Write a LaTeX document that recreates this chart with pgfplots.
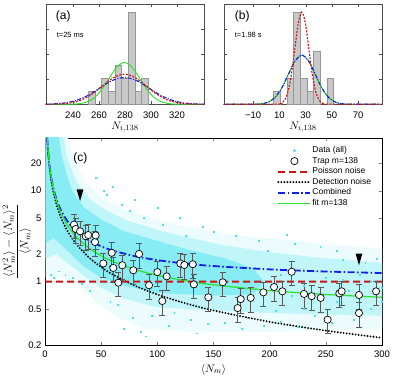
\documentclass[border=0pt]{standalone}
\usepackage{amsmath}
\usepackage{fontspec}
\setmainfont{Liberation Sans}
\usepackage{pgfplots}
\pgfplotsset{compat=1.18}

\definecolor{cloudA}{RGB}{236,252,253}
\definecolor{cloudB}{RGB}{192,245,249}
\definecolor{cloudC}{RGB}{135,236,244}
\definecolor{dotc}{RGB}{80,222,236}
\definecolor{poiss}{RGB}{200,20,20}
\definecolor{comb}{RGB}{20,30,235}
\definecolor{fitg}{RGB}{40,228,40}
\definecolor{histf}{RGB}{200,200,200}
\definecolor{histe}{RGB}{150,150,150}

% downward triangle marker
\pgfdeclareplotmark{dtri}{%
  \pgfpathmoveto{\pgfqpoint{-3.4pt}{5.8pt}}%
  \pgfpathlineto{\pgfqpoint{3.4pt}{5.8pt}}%
  \pgfpathlineto{\pgfqpoint{0pt}{-5.8pt}}%
  \pgfpathclose\pgfusepathqfill}

\tikzset{
  gfit/.style={fitg, line width=0.9pt, smooth},
  gpoi/.style={poiss, line width=1.1pt, dash pattern=on 2pt off 1.4pt, smooth},
  gcomb/.style={comb, line width=1.1pt, dash pattern=on 4pt off 1.5pt on 1pt off 1.5pt, smooth},
}

\pgfplotsset{
  /pgf/number format/assume math mode=true,
  every tick label/.append style={font=\fontsize{9.5}{11}\selectfont},
  histax/.style={
    scale only axis, width=158.6pt, height=100pt,
    ymin=0, ymax=4.01, ytick={1,2,3}, yticklabels={},
    axis line style={black!70}, tick style={black!70},
    major tick length=3pt,
    xticklabel style={yshift=-4pt},
    xlabel style={at={(axis description cs:0.5,-0.227)}, anchor=center,
      font=\fontsize{11}{12}\selectfont},
  },
  histbar/.style={ybar, bar width=5.1, bar shift=0pt, fill=histf, draw=histe, line width=0.5pt},
}

\begin{document}
\begin{tikzpicture}
\path[use as bounding box] (0,0) rectangle (395pt,-380pt);

% ---------- (a) ----------
\begin{axis}[histax, at={(45.7pt,-104.3pt)}, anchor=south west,
  xmin=219, xmax=341, xtick={240,260,...,320},
  xlabel={$N_{i,138}$}]
\addplot[histbar] coordinates {
  (254.35,0.527) (264.55,1.054) (269.65,0.527) (274.75,1.581)
  (279.85,1.054) (284.95,3.689) (290.05,0.527) (295.15,1.054)};
\addplot[gfit] coordinates {
  (219,0) (237.5,0.004) (243.5,0.019) (249.5,0.074) (255.5,0.227) (261.5,0.545)
  (267.5,1.019) (273.5,1.483) (279.5,1.68) (285.5,1.483) (291.5,1.019)
  (297.5,0.545) (303.5,0.227) (309.5,0.074) (315.5,0.019) (321.5,0.004) (341,0)};
\addplot[gcomb] coordinates {
  (219,0.005) (223.1,0.012) (232.5,0.047) (241.9,0.146) (251.3,0.351) (260.7,0.655)
  (270.1,0.953) (279.5,1.08) (288.9,0.953) (298.3,0.655) (307.7,0.351)
  (317.1,0.146) (326.5,0.047) (335.9,0.012) (341,0.005)};
\addplot[gpoi] coordinates {
  (219,0.002) (229.1,0.013) (237.5,0.053) (245.9,0.164) (254.3,0.393) (262.7,0.734)
  (271.1,1.068) (279.5,1.21) (287.9,1.068) (296.3,0.734) (304.7,0.393)
  (313.1,0.164) (321.5,0.053) (329.9,0.013) (341,0.002)};
\node[anchor=west, font=\fontsize{12}{14}\selectfont] at (rel axis cs:0.042,0.876) {(a)};
\node[anchor=west, font=\fontsize{7.5}{9}\selectfont] at (rel axis cs:0.048,0.693) {t=25 ms};
\end{axis}

% ---------- (b) ----------
\begin{axis}[histax, at={(223.7pt,-104.3pt)}, anchor=south west,
  xmin=-32.5, xmax=88.5, xtick={-10,10,30,50,70},
  xticklabels={−10,10,30,50,70},
  xlabel={$N_{i,138}$}]
\addplot[histbar] coordinates {
  (8.05,0.527) (18.25,1.054) (23.35,3.689) (28.45,1.054)
  (33.55,0.527) (38.65,2.108) (48.85,1.054)};
\addplot[gfit] coordinates {
  (-32.5,0) (-8.95,0.004) (-3.8,0.022) (1.35,0.086) (6.5,0.267) (11.65,0.640)
  (16.8,1.195) (21.95,1.739) (27.1,1.97) (32.25,1.739) (37.4,1.195)
  (42.55,0.640) (47.7,0.267) (52.85,0.086) (58,0.022) (63.15,0.004) (88.5,0)};
\addplot[gcomb] coordinates {
  (-32.5,0) (-8.95,0.004) (-3.8,0.022) (1.35,0.086) (6.5,0.267) (11.65,0.640)
  (16.8,1.195) (21.95,1.739) (27.1,1.97) (32.25,1.739) (37.4,1.195)
  (42.55,0.640) (47.7,0.267) (52.85,0.086) (58,0.022) (63.15,0.004) (88.5,0)};
\addplot[gpoi] coordinates {
  (-32.5,0) (8.55,0.008) (11.2,0.041) (13.85,0.162) (16.5,0.501) (19.15,1.201)
  (21.8,2.244) (24.45,3.265) (27.1,3.7) (29.75,3.265) (32.4,2.244)
  (35.05,1.201) (37.7,0.501) (40.35,0.162) (43,0.041) (45.65,0.008) (88.5,0)};
\node[anchor=west, font=\fontsize{12}{14}\selectfont] at (rel axis cs:0.048,0.876) {(b)};
\node[anchor=west, font=\fontsize{7.5}{9}\selectfont] at (rel axis cs:0.048,0.693) {t=1.98 s};
\end{axis}

% ---------- (c) ----------
\begin{axis}[scale only axis, width=337pt, height=207pt,
  at={(45pt,-345pt)}, anchor=south west,
  xmin=0, xmax=300, ymode=log, ymin=0.2, ymax=38,
  xtick={0,50,...,300},
  ytick={0.2,0.5,1,2,5,10,20}, yticklabels={0.2,0.5,1,2,5,10,20},
  major tick length=3.5pt,
  xticklabel style={yshift=-2.5pt},
  xlabel={$\langle N_m\rangle$},
  xlabel style={at={(axis description cs:0.5,-0.118)}, anchor=center,
    font=\fontsize{11}{12}\selectfont},
  ylabel={$\dfrac{\langle N_m^2\rangle-\langle N_m\rangle^2}{\langle N_m\rangle}$},
  ylabel style={at={(axis description cs:-0.083,0.5)}, anchor=center,
    font=\fontsize{12}{14}\selectfont},
  legend cell align=left,
  legend style={draw=none, fill=none, at={(axis description cs:0.68,0.975)},
    anchor=north west, font=\fontsize{8.5}{10}\selectfont, row sep=0pt,
    nodes={inner sep=1pt, text height=6.5pt, text depth=2pt}},
  legend image code/.code={\draw[mark repeat=2,mark phase=2,#1]
    plot coordinates {(0pt,0pt) (16pt,0pt) (32pt,0pt)};},
]
\addlegendimage{only marks, mark=*, mark size=1.4pt, color=dotc}
\addlegendentry{Data (all)}
\addlegendimage{only marks, mark=*, mark size=3.6pt, mark options={fill=white, draw=black, line width=0.7pt}}
\addlegendentry{Trap m=138}
\addlegendimage{color=poiss, line width=1.8pt, dash pattern=on 7pt off 4pt}
\addlegendentry{Poisson noise}
\addlegendimage{color=black, line width=2.1pt, line cap=round, dash pattern=on 0pt off 3pt}
\addlegendentry{Detection noise}
\addlegendimage{color=comb, line width=1.8pt, dash pattern=on 7pt off 2.5pt on 1.5pt off 2.5pt}
\addlegendentry{Combined}
\addlegendimage{color=fitg, line width=1.1pt}
\addlegendentry{fit m=138}

% data cloud: sparse outer region, main band, dense core
\addplot[forget plot, fill=cloudA, draw=none] coordinates {
  (0.5,40) (20,40) (25,24) (35,13) (50,8.5) (70,6.3) (100,4.8) (130,3.9)
  (160,3.3) (200,3.0) (250,2.6) (300,2.3)
  (300,0.3) (200,0.28) (130,0.28) (90,0.3) (65,0.4) (45,0.6) (30,0.9)
  (15,1.1) (0.5,1.1)} -- cycle;
\addplot[forget plot, fill=cloudB, draw=none] coordinates {
  (0.5,40) (16,40) (20,22) (28,12.5) (40,8) (55,6) (75,4.6) (100,3.7)
  (130,3.0) (160,2.5) (200,2.1) (250,1.8) (300,1.6)
  (300,0.42) (200,0.45) (150,0.48) (100,0.52) (70,0.65) (50,0.85)
  (35,1.15) (20,1.6) (10,2.0) (0.5,1.8)} -- cycle;
\addplot[forget plot, fill=cloudC, draw=none] coordinates {
  (0.5,40) (12,40) (15,24) (20,14) (25,9.5) (35,6.5) (50,4.8) (70,3.6)
  (100,2.8) (130,2.2) (160,1.8) (185,1.4) (195,1.0)
  (185,0.72) (150,0.7) (100,0.75) (70,0.9) (50,1.1) (35,1.45) (25,1.9)
  (15,2.5) (8,3.0) (3,2.8) (0.5,2.6)} -- cycle;
\addplot[forget plot, only marks, mark=square*, mark size=0.45pt, color=dotc] coordinates {
  (70,0.3) (85,0.28) (110,0.33) (95,0.42) (130,0.38) (160,0.35) (180,0.4)
  (210,0.36) (240,0.42) (275,0.38) (290,0.5) (230,0.5) (260,2.2) (215,3.3)
  (190,2.8) (170,3.2) (140,4.0) (120,5.0) (100,6.5) (80,8) (60,11) (45,14)
  (55,9) (75,6) (150,3.5) (280,2.0) (295,1.8) (245,2.4)
  (115,0.45) (65,0.55) (40,0.8) (25,1.1) (12,1.3) (5,1.2) (300,0.6) (205,0.48)
  (175,0.3) (135,0.27) (90,0.25) (222,2.6) (198,2.2) (265,1.75) (285,1.6)
  (125,3.2) (105,4.2) (88,5.0) (68,7.0) (52,10) (145,0.34) (195,0.33)
  (255,0.35) (225,0.32) (78,0.4) (58,0.6) (33,0.95) (18,1.2) (8,1.1)
  (210,1.2) (230,0.9) (250,1.1) (270,0.8) (290,1.0) (220,0.7) (240,1.3)
  (260,0.6) (280,1.2) (300,0.85) (205,0.95) (265,1.05)};

% model curves
\addplot[forget plot, color=black, line width=2.1pt, line cap=round,
  dash pattern=on 0pt off 3pt, smooth] coordinates {
  (1.9,37.9) (2,36) (2.5,28.8) (3,24) (4,18) (5,14.4) (6,12) (8,9) (10,7.2)
  (12,6) (15,4.8) (20,3.6) (25,2.88) (30,2.4) (40,1.8) (50,1.44) (60,1.2)
  (80,0.9) (100,0.72) (125,0.576) (150,0.48) (200,0.36) (250,0.288) (300,0.24)};
\addplot[forget plot, color=comb, line width=1.8pt,
  dash pattern=on 7pt off 2.5pt on 1.5pt off 2.5pt, smooth] coordinates {
  (1.95,37.9) (2,37) (2.5,29.8) (3,25) (4,19) (5,15.4) (6,13) (8,10) (10,8.2)
  (12,7) (15,5.8) (20,4.6) (25,3.88) (30,3.4) (40,2.8) (50,2.44) (60,2.2)
  (80,1.9) (100,1.72) (125,1.576) (150,1.48) (200,1.36) (250,1.288) (300,1.24)};
\addplot[forget plot, color=fitg, line width=1.2pt, smooth] coordinates {
  (1.95,38.9) (2,37.92) (2.5,30.42) (3,25.42) (4,19.17) (5,15.42) (6,12.92)
  (8,9.8) (10,7.92) (12,6.67) (15,5.42) (20,4.17) (25,3.42) (30,2.92)
  (40,2.295) (50,1.92) (60,1.67) (80,1.3575) (100,1.17) (125,1.02) (150,0.92)
  (200,0.795) (250,0.72) (300,0.67)};
\addplot[forget plot, draw=poiss, line width=2pt, dash pattern=on 7pt off 4pt, mark=none, smooth]
  coordinates {(0,1.0001) (50,1.0002) (100,1.0001) (150,1.0002) (200,1.0001) (250,1.0002) (300,1.0001)};

% trap m=138
\addplot[forget plot, only marks, mark=*, mark size=3.6pt,
  mark options={fill=white, draw=black, line width=0.7pt},
  error bars/.cd, y dir=both, y fixed relative=0.3,
  error bar style={black!65, line width=0.8pt},
  error mark options={rotate=90, mark size=3pt, black!65, line width=0.8pt}]
coordinates {
  (25.8,4.23) (27.3,3.79) (31.2,3.57) (36.3,3.15) (38.5,3.25) (44.5,2.72)
  (45.1,3.22) (51.9,1.58) (59.4,2.07) (60.8,1.41) (65.3,0.97) (68.8,1.51)
  (78.6,1.33) (83.7,2.01) (92.6,0.91) (100,1.27) (104.4,0.61) (108.3,1.14)
  (120.5,1.58) (124,1.52) (131.5,1.55) (132.5,0.93) (145.4,0.67) (158.2,0.98)
  (171.5,0.51) (174.2,0.64) (183.1,0.66) (194.4,0.76) (203.9,0.87) (211.3,0.78)
  (219.6,1.28) (230.6,0.73) (237.4,0.69) (245.4,0.66) (251.6,0.38) (262,0.74)
  (264.1,0.78) (279.5,0.71) (279.5,0.45) (294.7,0.78)};

% markers of the two histogram times
\addplot[forget plot, only marks, mark=dtri, black] coordinates {(31.2,8.9) (279.5,1.75)};

\node[anchor=west, font=\fontsize{12}{14}\selectfont] at (rel axis cs:0.074,0.903) {(c)};
\end{axis}
\end{tikzpicture}
\end{document}
